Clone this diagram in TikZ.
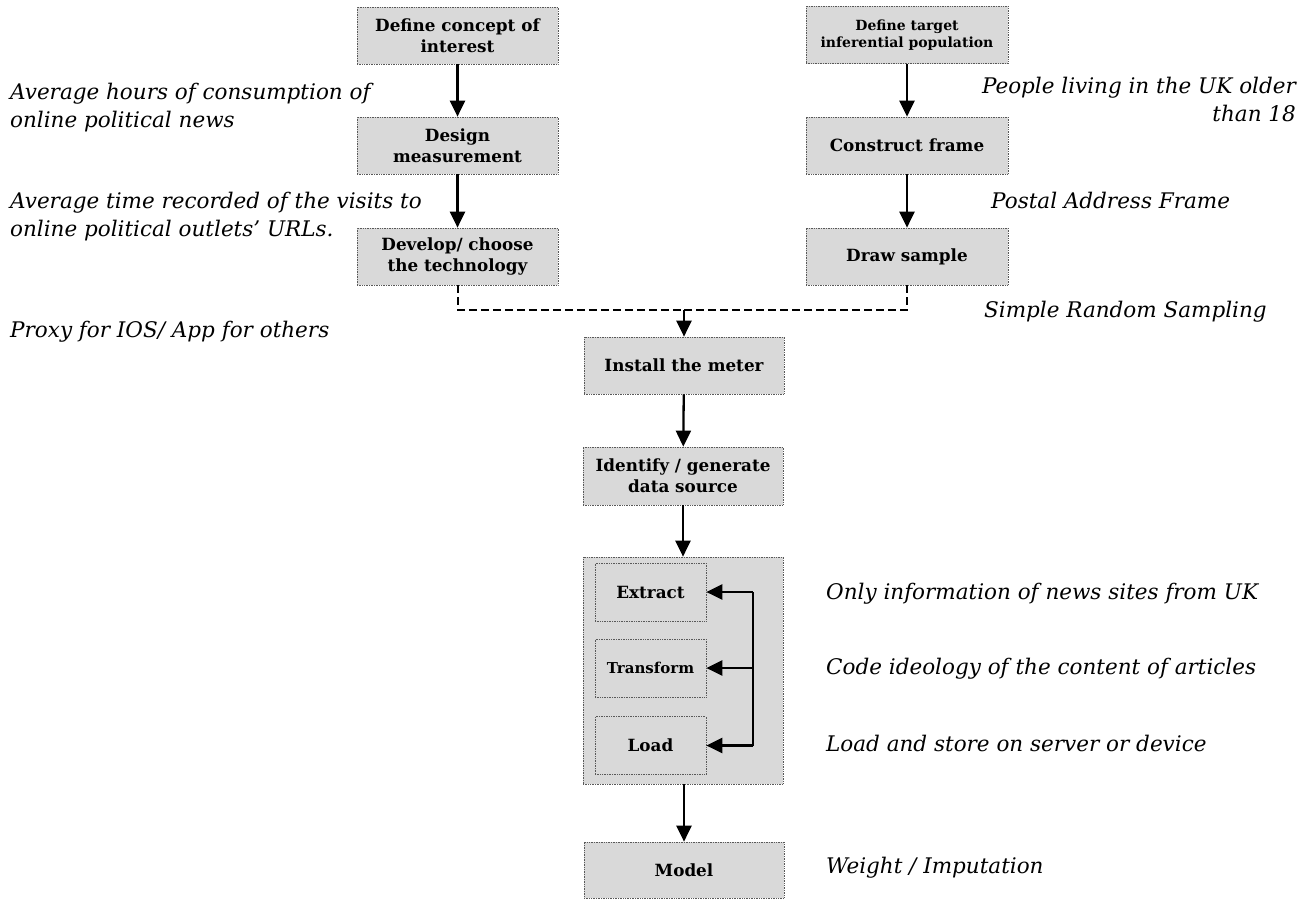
\documentclass[tikz,border=0pt]{standalone}
\usepackage{fontspec}
\setmainfont{DejaVu Serif}
\usetikzlibrary{arrows.meta}
\begin{document}
\begin{tikzpicture}[x=1pt,y=-1pt,
  stepbox/.style={draw=black!65, densely dotted, line width=0.7pt, fill=black!15,
    inner sep=0pt, align=center, font=\fontsize{16.8}{21}\selectfont\bfseries},
  etlbox/.style={stepbox, minimum width=111pt, minimum height=58pt},
  note/.style={inner sep=0pt, align=left, font=\fontsize{21.5}{28}\selectfont\itshape},
  arr/.style={line width=2.3pt, -{Triangle[width=15pt,length=16pt]}},
  link/.style={line width=2.3pt},
  dashlink/.style={line width=2pt, dash pattern=on 8pt off 4pt}]
\useasboundingbox (0,0) rectangle (1305,899);

% left column: concept and measurement
\node[stepbox, minimum width=201pt, minimum height=57pt] (concept) at (457.5,35.5) {Define concept of\\interest};
\node[stepbox, minimum width=201pt, minimum height=57pt] (measure) at (457.5,145.5) {Design\\measurement};
\node[stepbox, minimum width=201pt, minimum height=57pt] (tech) at (457.5,256.5) {Develop/ choose\\the technology};

% right column: population and sample
\node[stepbox, minimum width=202pt, minimum height=57pt, font=\fontsize{14}{16.5}\selectfont\bfseries] (target) at (907,35) {Define target\\inferential population};
\node[stepbox, minimum width=202pt, minimum height=57pt] (frame) at (907,145.5) {Construct frame};
\node[stepbox, minimum width=202pt, minimum height=57pt] (sample) at (907,256.5) {Draw sample};

% central pipeline
\node[stepbox, minimum width=200pt, minimum height=57pt] (meter) at (684,365.5) {Install the meter};
\node[stepbox, minimum width=200pt, minimum height=58pt] (source) at (683,476) {Identify / generate\\data source};
\node[stepbox, minimum width=200pt, minimum height=227pt] (etl) at (683,670.5) {};
\node[etlbox] (extract) at (650.5,592) {Extract};
\node[etlbox, font=\fontsize{15}{17}\selectfont\bfseries] (transform) at (650.5,668) {Transform};
\node[etlbox] (load) at (650.5,745.5) {Load};
\node[stepbox, minimum width=200pt, minimum height=56pt] (model) at (684,870) {Model};

% connectors
\draw[arr] (concept) -- (measure);
\draw[arr] (measure) -- (tech);
\draw[arr] (target) -- (frame);
\draw[arr] (frame) -- (sample);

\coordinate (join) at (684,310);
\draw[dashlink] (tech.south) |- (join);
\draw[dashlink] (sample.south) |- (join);
\draw[arr] (join) -- (meter.north);
\draw[arr] (meter) -- (source);
\draw[arr] (source.south) -- (source.south |- etl.north);
\draw[arr] (etl.south -| meter) -- (model.north);

\coordinate (bus) at (753,0);
\draw[link] (extract.east -| bus) -- (load.east -| bus);
\draw[arr] (extract.east -| bus) -- (extract.east);
\draw[arr] (transform.east -| bus) -- (transform.east);
\draw[arr] (load.east -| bus) -- (load.east);

% annotations (anchored on the baseline of their last line)
\node[note, anchor=base west] (n1) at (10,127) {Average hours of consumption of\\online political news};
\node[note, anchor=base west] (n2) at (10,236) {Average time recorded of the visits to\\online political outlets’ URLs.};
\node[note, anchor=base west] (n3) at (10,337) {Proxy for IOS/ App for others};
\node[note, anchor=base east, align=right] (n4) at (1296,121) {People living in the UK older\\than 18};
\node[note, anchor=base west] (n5) at (991,208) {Postal Address Frame};
\node[note, anchor=base west] (n6) at (984,317) {Simple Random Sampling};
\node[note, anchor=base west] (n7) at (826,599) {Only information of news sites from UK};
\node[note, anchor=base west] (n8) at (826,674) {Code ideology of the content of articles};
\node[note, anchor=base west] (n9) at (826,751) {Load and store on server or device};
\node[note, anchor=base west] (n10) at (826,873) {Weight / Imputation};
\end{tikzpicture}
\end{document}
